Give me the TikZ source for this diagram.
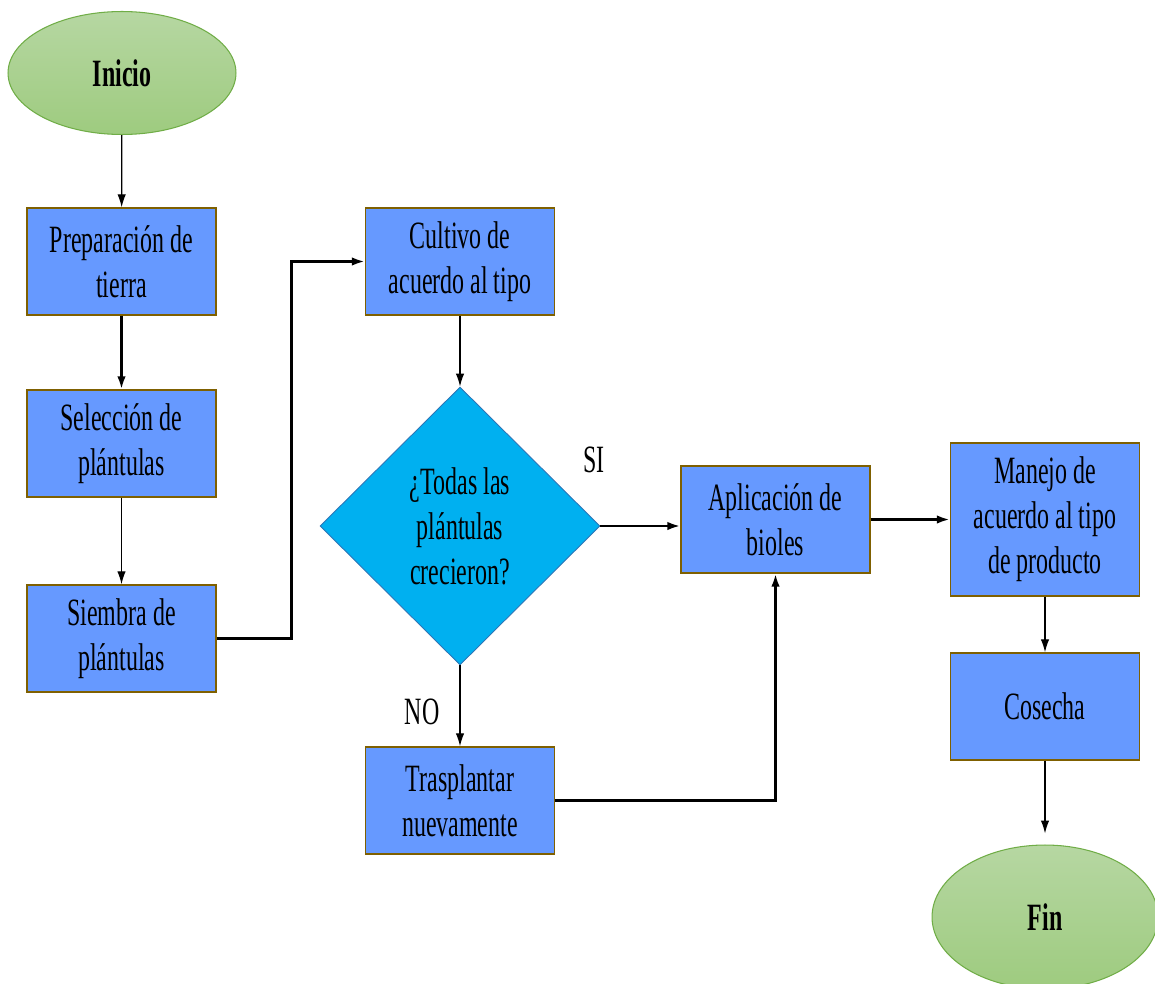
\documentclass[tikz,border=0pt]{standalone}
\usepackage{fontspec}
\setmainfont[FakeStretch=0.62]{Liberation Serif}
\usetikzlibrary{shapes.geometric,arrows.meta}

\definecolor{boxblue}{RGB}{102,153,255}
\definecolor{boxedge}{RGB}{127,96,0}
\definecolor{decfill}{RGB}{0,176,240}
\definecolor{decedge}{RGB}{46,117,182}
\definecolor{greentop}{RGB}{182,215,162}
\definecolor{greenbot}{RGB}{158,203,127}
\definecolor{greenedge}{RGB}{112,173,71}

\tikzset{
  txt/.style={font=\fontsize{22}{25.6}\selectfont, align=center},
  procbox/.style={txt, rectangle, draw=boxedge, line width=0.8pt, fill=boxblue,
    minimum width=3.78cm, minimum height=2.14cm, inner sep=0pt},
  endpoint/.style={txt, ellipse, draw=greenedge, line width=0.6pt,
    top color=greentop, bottom color=greenbot,
    minimum width=4.56cm, minimum height=2.46cm, font=\fontsize{22}{25.6}\selectfont\bfseries},
  decision/.style={txt, diamond, draw=decedge, line width=0.5pt, fill=decfill,
    minimum width=5.6cm, minimum height=5.56cm, inner sep=0pt},
  thinarrow/.style={-{Latex[length=2.6mm,width=1.7mm]}, line width=0.75pt},
  thickarrow/.style={-{Latex[length=2.6mm,width=1.7mm]}, line width=1.4pt}
}

\begin{document}
\begin{tikzpicture}[x=0.02cm,y=-0.02cm]
  \clip (0,0) rectangle (1155,983);
  % left column
  \node[endpoint] (inicio) at (122,73) {Inicio};
  \node[procbox] (prep) at (121.5,261.5) {Preparación de\\tierra};
  \node[procbox] (selec) at (121.5,443.5) {Selección de\\plántulas};
  \node[procbox] (siembra) at (121.5,638.5) {Siembra de\\plántulas};
  % middle column
  \node[procbox] (cultivo) at (460,261.5) {Cultivo de\\acuerdo al tipo};
  \node[decision] (crecen) at (460,526) {¿Todas las\\plántulas\\crecieron?};
  \node[procbox] (trasp) at (460,800.5) {Trasplantar\\nuevamente};
  \node[procbox] (aplic) at (775.5,519.5) {Aplicación de\\bioles};
  % right column
  \node[procbox, minimum height=3.06cm] (manejo) at (1045,519.5) {Manejo de\\acuerdo al tipo\\de producto};
  \node[procbox] (cosecha) at (1045,706.5) {Cosecha};
  \node[endpoint, minimum width=4.52cm, minimum height=2.88cm] (fin) at (1045,917) {Fin};
  % labels
  \node[txt] (si) at (594,460) {SI};
  \node[txt] (no) at (422,712) {NO};
  % connectors
  \draw[thinarrow] (inicio) -- (prep);
  \draw[thickarrow] (prep) -- (selec);
  \draw[thinarrow] (selec) -- (siembra);
  \draw[thickarrow] (siembra.east) -- ++(75,0) |- (cultivo.west);
  \draw[thinarrow] (cultivo) -- (crecen);
  \draw[thickarrow] (crecen.east) -- (crecen.east -| aplic.west);
  \draw[thinarrow] (crecen) -- (trasp);
  \draw[thickarrow] (trasp.east) -| (aplic.south);
  \draw[thickarrow] (aplic) -- (manejo);
  \draw[thinarrow] (manejo) -- (cosecha);
  \draw[thinarrow, shorten >=2.2mm] (cosecha) -- (fin);
\end{tikzpicture}
\end{document}
